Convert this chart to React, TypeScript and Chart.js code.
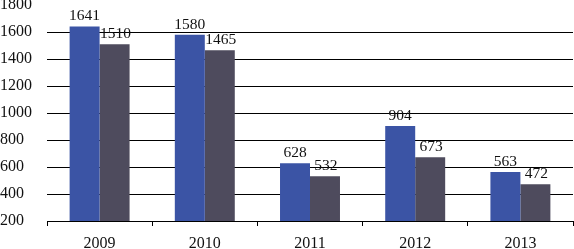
import React, { useEffect, useRef } from "react";
import { Chart, registerables } from "chart.js";

Chart.register(...registerables);

const categories = ["2009", "2010", "2011", "2012", "2013"];
const seriesA = [1641, 1580, 628, 904, 563];
const seriesB = [1510, 1465, 532, 673, 472];
const yTicks = [200, 400, 600, 800, 1000, 1200, 1400, 1600, 1800];

const FONT = "'Liberation Serif', 'Times New Roman', serif";

const labelPlugin = {
  id: "barLabels",
  afterDatasetsDraw(chart: any) {
    const ctx = chart.ctx;
    ctx.save();
    ctx.font = `15.5px ${FONT}`;
    ctx.fillStyle = "#111";
    ctx.textAlign = "center";
    ctx.textBaseline = "alphabetic";
    chart.data.datasets.forEach((ds: any, i: number) => {
      const meta = chart.getDatasetMeta(i);
      meta.data.forEach((bar: any, j: number) => {
        ctx.fillText(String(ds.data[j]), bar.x + (i === 1 ? 1 : 0), bar.y - 6);
      });
    });
    ctx.restore();
  },
};

export default function App() {
  const ref = useRef<HTMLCanvasElement>(null);
  useEffect(() => {
    document.body.style.margin = "0";
    const chart = new Chart(ref.current!, {
      type: "bar",
      data: {
        labels: categories,
        datasets: [
          { data: seriesA, backgroundColor: "#3B54A5", borderWidth: 0 },
          { data: seriesB, backgroundColor: "#4E4B5D", borderWidth: 0 },
        ],
      },
      options: {
        animation: false,
        responsive: false,
        maintainAspectRatio: false,
        layout: { padding: { top: 5, right: 1, left: 0, bottom: 0 } },
        plugins: { legend: { display: false }, tooltip: { enabled: false } },
        datasets: { bar: { barPercentage: 1, categoryPercentage: 0.57 } },
        scales: {
          x: {
            offset: true,
            grid: {
              display: true,
              offset: true,
              drawOnChartArea: false,
              drawTicks: true,
              tickLength: 5,
              color: "#000",
            },
            border: { display: true, color: "#000", width: 1 },
            ticks: {
              color: "#111",
              font: { family: FONT, size: 16 },
              padding: 8,
            },
            afterFit: (s: any) => {
              s.height = 28;
            },
          },
          y: {
            min: 200,
            max: 1800,
            afterBuildTicks: (s: any) => {
              s.ticks = yTicks.map((v) => ({ value: v }));
            },
            grid: {
              color: (c: any) => (c.tick && c.tick.value === 1800 ? "rgba(0,0,0,0)" : "#000"),
              drawTicks: false,
              lineWidth: 1,
            },
            border: { display: false },
            ticks: {
              color: "#111",
              font: { family: FONT, size: 16 },
              padding: 12,
              crossAlign: "far",
              callback: (v: any) => String(v),
            },
            afterFit: (s: any) => {
              s.width = 47;
              s.paddingTop = 0;
            },
          },
        },
      },
      plugins: [labelPlugin],
    });
    return () => chart.destroy();
  }, []);
  return (
    <div style={{ width: 574, height: 249 }}>
      <canvas ref={ref} width={574} height={249} style={{ display: "block" }} />
    </div>
  );
}
